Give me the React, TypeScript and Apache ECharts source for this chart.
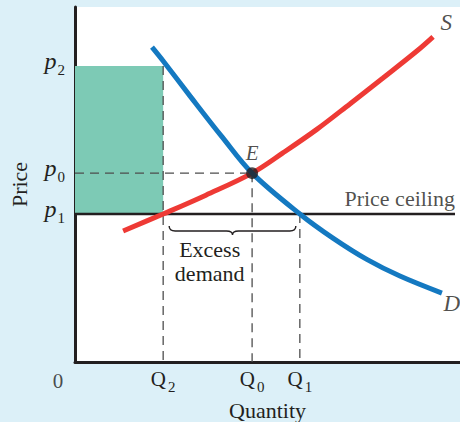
import React, { useEffect, useRef } from 'react';
import * as echarts from 'echarts';

// Tick positions (data units) and their subscripts
const quantityTicks = [2.29, 4.6, 5.84];
const quantitySubs = ['2', '0', '1'];
const priceTicks = [4.17, 5.32, 8.34];
const priceSubs = ['1', '0', '2'];

const Q2 = quantityTicks[0];
const Q0 = quantityTicks[1];
const Q1 = quantityTicks[2];
const P1 = priceTicks[0];
const P0 = priceTicks[1];
const P2 = priceTicks[2];

// Curves [quantity, price]
const supply = [
  [1.25, 3.69], [2.29, 4.17], [3.4, 4.7], [4.6, 5.32], [5.4, 5.89],
  [6.29, 6.56], [7.14, 7.27], [8.0, 8.0], [8.88, 8.76], [9.3, 9.16],
];
const demand = [
  [2.0, 8.87], [2.29, 8.48], [2.99, 7.49], [3.82, 6.34], [4.6, 5.32],
  [5.84, 4.17], [6.7, 3.49], [7.58, 2.89], [8.44, 2.42], [9.53, 1.94],
];
const ceilingEnd = 9.87;

const FONT = 'Liberation Serif';
const INK = '#231f20';

function subLabel(ticks: number[], subs: string[], main: string) {
  return (v: number) => {
    let idx = 0;
    let best = Infinity;
    ticks.forEach((t, i) => {
      const d = Math.abs(t - v);
      if (d < best) { best = d; idx = i; }
    });
    return `{m|${main}}{s|${subs[idx]}}`;
  };
}

export default function App() {
  const ref = useRef<HTMLDivElement>(null);
  useEffect(() => {
    if (!ref.current) return;
    const chart = echarts.init(ref.current, undefined, { renderer: 'svg' });
    const dashed = { color: '#4d4d4d', width: 1.3, type: [9, 6] as any };
    chart.setOption({
      animation: false,
      backgroundColor: '#dcf0f8',
      textStyle: { fontFamily: FONT, color: INK },
      grid: {
        left: 75, right: 0, top: 7, bottom: 60,
        containLabel: false, outerBoundsMode: 'none',
        show: true, backgroundColor: '#ffffff', borderWidth: 0,
      },
      xAxis: {
        type: 'value', min: 0, max: 10,
        name: 'Quantity', nameLocation: 'middle', nameGap: 37,
        nameTextStyle: { fontFamily: FONT, fontSize: 22, color: INK },
        axisLine: { show: true, lineStyle: { color: INK, width: 3 } },
        axisTick: { show: false },
        splitLine: { show: false },
        axisLabel: {
          customValues: quantityTicks,
          formatter: subLabel(quantityTicks, quantitySubs, 'Q'),
          margin: 1,
          rich: {
            m: { fontFamily: FONT, fontSize: 21, color: INK },
            s: { fontFamily: FONT, fontSize: 15, color: INK, padding: [16, 0, 0, 2] },
          },
        },
      },
      yAxis: {
        type: 'value', min: 0, max: 10,
        name: 'Price', nameLocation: 'middle', nameGap: 45, nameRotate: 90,
        nameTextStyle: { fontFamily: FONT, fontSize: 22, color: INK },
        axisLine: { show: true, lineStyle: { color: INK, width: 3 } },
        axisTick: { show: false },
        splitLine: { show: false },
        axisLabel: {
          customValues: priceTicks,
          formatter: subLabel(priceTicks, priceSubs, 'p'),
          margin: 10,
          padding: [0, 0, 10, 0],
          rich: {
            m: { fontFamily: FONT, fontStyle: 'italic', fontSize: 24, color: INK },
            s: { fontFamily: FONT, fontSize: 15, color: INK, padding: [18, 0, 0, 1] },
          },
        },
      },
      series: [
        {
          type: 'line', z: 1, symbol: 'none', silent: true,
          data: [],
          markArea: {
            silent: true,
            itemStyle: { color: '#7dcab5', opacity: 1 },
            data: [[{ coord: [0, P2] }, { coord: [Q2, P1] }]],
          },
        },
        { type: 'line', z: 2, symbol: 'none', silent: true, lineStyle: dashed, data: [[0, P0], [Q0, P0]] },
        { type: 'line', z: 2, symbol: 'none', silent: true, lineStyle: dashed, data: [[Q2, P2], [Q2, 0]] },
        { type: 'line', z: 2, symbol: 'none', silent: true, lineStyle: dashed, data: [[Q0, P0], [Q0, 0]] },
        { type: 'line', z: 2, symbol: 'none', silent: true, lineStyle: dashed, data: [[Q1, P1], [Q1, 0]] },
        {
          type: 'line', z: 3, symbol: 'none', silent: true,
          lineStyle: { color: INK, width: 2.5 },
          data: [[0, P1], [ceilingEnd, P1]],
        },
        {
          type: 'line', z: 4, symbol: 'none', silent: true, smooth: 0.35,
          lineStyle: { color: '#ee3a35', width: 5, cap: 'butt' },
          data: supply,
        },
        {
          type: 'line', z: 5, symbol: 'none', silent: true, smooth: 0.35,
          lineStyle: { color: '#1479c1', width: 5, cap: 'butt' },
          data: demand,
        },
        {
          type: 'custom', z: 6, silent: true,
          data: [[Q2, Q1, P1]],
          renderItem: (_params: any, api: any) => {
            const a = api.coord([api.value(0), api.value(2)]);
            const b = api.coord([api.value(1), api.value(2)]);
            const x1 = a[0] + 6;
            const x2 = b[0] - 4;
            const y0 = a[1] + 12;
            const y1 = a[1] + 17;
            const y2 = a[1] + 21;
            const mid = (x1 + x2) / 2;
            const d = `M${x1},${y0} Q${x1},${y1} ${x1 + 6},${y1} L${mid - 6},${y1} Q${mid},${y1} ${mid},${y2} Q${mid},${y1} ${mid + 6},${y1} L${x2 - 6},${y1} Q${x2},${y1} ${x2},${y0}`;
            return {
              type: 'group',
              children: [
                { type: 'path', shape: { pathData: d }, style: { fill: 'none', stroke: INK, lineWidth: 1.4 } },
                {
                  type: 'text', x: x1 + (x2 - x1) * 0.32, y: a[1] + 48,
                  style: {
                    text: 'Excess\ndemand', fill: INK, fontFamily: FONT, fontSize: 22, lineHeight: 24,
                    align: 'center', verticalAlign: 'middle',
                  },
                },
              ],
            };
          },
        },
        {
          type: 'scatter', z: 7, silent: true, clip: false,
          symbolSize: 12, itemStyle: { color: INK },
          data: [[Q0, P0]],
          label: { show: true, formatter: 'E', position: 'top', distance: 4, fontFamily: FONT, fontStyle: 'italic', fontSize: 21, color: INK },
        },
        {
          type: 'scatter', z: 7, silent: true, clip: false,
          symbolSize: 1, itemStyle: { color: 'rgba(0,0,0,0)' },
          data: [
            { value: supply[supply.length - 1], label: { show: true, formatter: 'S', position: 'right', distance: 7, offset: [0, -14], fontStyle: 'italic', fontSize: 23 } },
            { value: demand[demand.length - 1], label: { show: true, formatter: 'D', position: 'right', distance: 1, offset: [0, 10], fontStyle: 'italic', fontSize: 23 } },
            { value: [ceilingEnd, P1], label: { show: true, formatter: 'Price ceiling', position: 'top', align: 'right', distance: 4, fontSize: 22 } },
            { value: [0, 0], label: { show: true, formatter: '0', position: 'inside', offset: [-17, 19], fontSize: 21 } },
          ],
          label: { fontFamily: FONT, color: INK },
        },
      ],
    });
    return () => chart.dispose();
  }, []);
  return <div ref={ref} style={{ width: 460, height: 422, position: 'fixed', left: 0, top: 0 }} />;
}
